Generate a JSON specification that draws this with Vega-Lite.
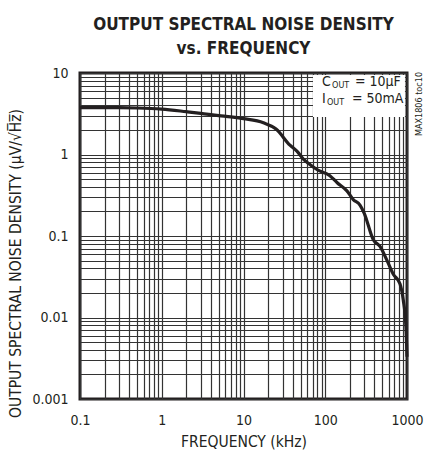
{
  "$schema": "https://vega.github.io/schema/vega-lite/v6.json",
  "width": 327,
  "height": 326,
  "autosize": {"type": "none"},
  "padding": {"left": 80, "top": 73, "right": 18, "bottom": 55},
  "background": "white",
  "title": {
    "text": ["OUTPUT SPECTRAL NOISE DENSITY", "vs. FREQUENCY"],
    "anchor": "middle",
    "font": "DejaVu Sans Condensed, Roboto, sans-serif",
    "fontWeight": "bold",
    "fontSize": 17,
    "lineHeight": 24,
    "color": "#231f20",
    "offset": 8
  },
  "config": {
    "view": {"stroke": "#231f20", "strokeWidth": 3},
    "font": "DejaVu Sans Condensed, Roboto, sans-serif",
    "axis": {
      "grid": true,
      "gridColor": "#333333",
      "gridWidth": 1.2,
      "gridOpacity": 1,
      "ticks": false,
      "domain": false,
      "labelFont": "DejaVu Sans Condensed, Roboto, sans-serif",
      "labelFontSize": 14,
      "labelColor": "#231f20",
      "titleFont": "DejaVu Sans Condensed, Roboto, sans-serif",
      "titleFontWeight": "normal",
      "titleColor": "#231f20",
      "labelFlush": false,
      "labelOverlap": false
    }
  },
  "datasets": {
    "curve": [
      {"f": 0.1, "v": 3.75},
      {"f": 0.3, "v": 3.75},
      {"f": 0.5, "v": 3.72},
      {"f": 1, "v": 3.6},
      {"f": 2, "v": 3.35},
      {"f": 3, "v": 3.2},
      {"f": 5, "v": 3.0},
      {"f": 7, "v": 2.9},
      {"f": 10, "v": 2.75},
      {"f": 17.5, "v": 2.45},
      {"f": 25, "v": 2.05},
      {"f": 37, "v": 1.3},
      {"f": 45, "v": 1.1},
      {"f": 54, "v": 0.88},
      {"f": 62, "v": 0.78},
      {"f": 80, "v": 0.65},
      {"f": 114, "v": 0.55},
      {"f": 140, "v": 0.45},
      {"f": 183, "v": 0.36},
      {"f": 220, "v": 0.28},
      {"f": 266, "v": 0.24},
      {"f": 300, "v": 0.19},
      {"f": 387, "v": 0.09},
      {"f": 470, "v": 0.074},
      {"f": 565, "v": 0.051},
      {"f": 680, "v": 0.034},
      {"f": 820, "v": 0.026},
      {"f": 900, "v": 0.0164},
      {"f": 970, "v": 0.0077},
      {"f": 1000, "v": 0.0033}
    ],
    "box": [{"f": 70.8, "f2": 944, "v": 9.45, "v2": 2.88}],
    "notes": [
      {"label": "C", "kind": "main", "f": 91, "v": 6.9},
      {"label": "OUT", "kind": "sub", "f": 121, "v": 6.55},
      {"label": "= 10µF", "kind": "main", "f": 231, "v": 6.9},
      {"label": "I", "kind": "main", "f": 91, "v": 4.28},
      {"label": "OUT", "kind": "sub", "f": 105, "v": 4.05},
      {"label": "= 50mA", "kind": "main", "f": 212, "v": 4.28}
    ],
    "tag": [{"label": "MAX1806 toc10", "f": 1402, "v": 10.3}]
  },
  "layer": [
    {
      "data": {"name": "box"},
      "mark": {"type": "rect", "fill": "white", "stroke": null},
      "encoding": {
        "x": {"field": "f", "type": "quantitative", "scale": {"type": "log", "domain": [0.1, 1000]},
          "axis": {
            "title": "FREQUENCY (kHz)",
            "titleFontSize": 15.5,
            "values": [0.1,0.2,0.3,0.4,0.5,0.6,0.7,0.8,0.9,1,2,3,4,5,6,7,8,9,10,20,30,40,50,60,70,80,90,100,200,300,400,500,600,700,800,900,1000],
            "format": "~g",
            "labelExpr": "abs(log(datum.value)/LN10 - round(log(datum.value)/LN10)) < 0.000001 ? datum.label : ''",
            "labelPadding": 14,
            "titlePadding": 7
          }},
        "x2": {"field": "f2"},
        "y": {"field": "v", "type": "quantitative", "scale": {"type": "log", "domain": [0.001, 10]},
          "axis": {
            "title": "OUTPUT SPECTRAL NOISE DENSITY (µV/√H̅z̅)",
            "titleFontSize": 15.5,
            "values": [0.001,0.002,0.003,0.004,0.005,0.006,0.007,0.008,0.009,0.01,0.02,0.03,0.04,0.05,0.06,0.07,0.08,0.09,0.1,0.2,0.3,0.4,0.5,0.6,0.7,0.8,0.9,1,2,3,4,5,6,7,8,9,10],
            "format": "~g",
            "labelExpr": "abs(log(datum.value)/LN10 - round(log(datum.value)/LN10)) < 0.000001 ? datum.label : ''",
            "labelPadding": 12,
            "titlePadding": 8,
            "titleY": 190
          }},
        "y2": {"field": "v2"}
      }
    },
    {
      "data": {"name": "curve"},
      "mark": {"type": "line", "color": "#231f20", "strokeWidth": 3.2, "interpolate": "monotone", "clip": false},
      "encoding": {
        "x": {"field": "f", "type": "quantitative"},
        "y": {"field": "v", "type": "quantitative"}
      }
    },
    {
      "data": {"name": "notes"},
      "transform": [{"filter": "datum.kind == 'main'"}],
      "mark": {"type": "text", "align": "left", "baseline": "alphabetic", "fontSize": 14, "color": "#231f20"},
      "encoding": {
        "x": {"field": "f", "type": "quantitative"},
        "y": {"field": "v", "type": "quantitative"},
        "text": {"field": "label"}
      }
    },
    {
      "data": {"name": "notes"},
      "transform": [{"filter": "datum.kind == 'sub'"}],
      "mark": {"type": "text", "align": "left", "baseline": "alphabetic", "fontSize": 9, "color": "#231f20"},
      "encoding": {
        "x": {"field": "f", "type": "quantitative"},
        "y": {"field": "v", "type": "quantitative"},
        "text": {"field": "label"}
      }
    },
    {
      "data": {"name": "tag"},
      "mark": {"type": "text", "align": "right", "baseline": "middle", "angle": 270, "fontSize": 9, "color": "#231f20", "clip": false},
      "encoding": {
        "x": {"field": "f", "type": "quantitative"},
        "y": {"field": "v", "type": "quantitative"},
        "text": {"field": "label"}
      }
    }
  ]
}
